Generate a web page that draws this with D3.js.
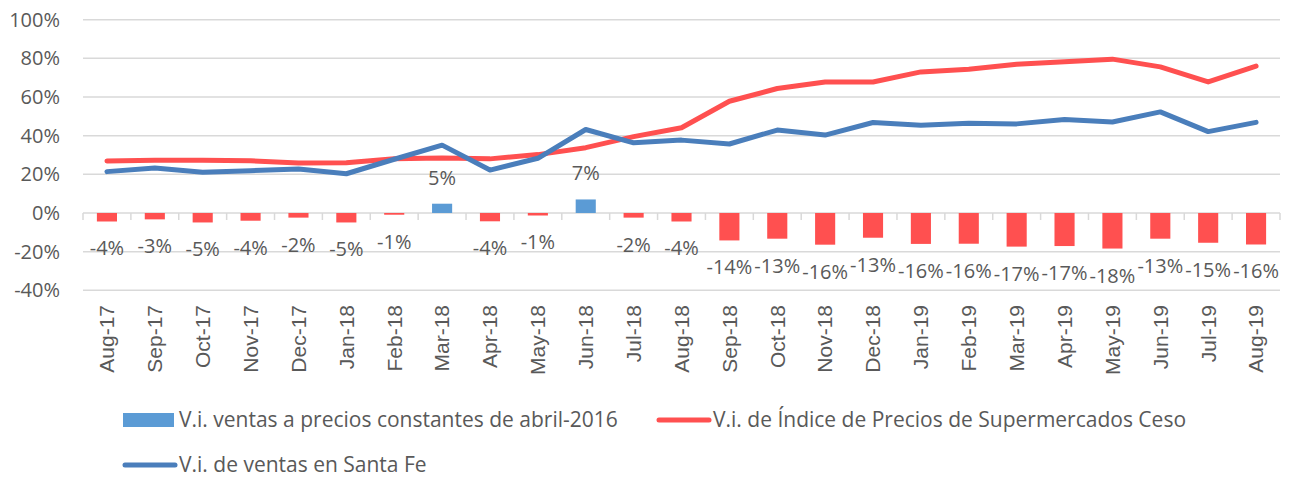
<!DOCTYPE html>
<html>
<head>
<meta charset="utf-8">
<script src="https://cdn.jsdelivr.net/npm/d3@7"></script>
<style>
  body { margin: 0; background: #fff; }
  text { fill: #595959; }
</style>
</head>
<body>
<div id="chart"></div>
<script>
// months on the x axis
const months = ["Aug-17", "Sep-17", "Oct-17", "Nov-17", "Dec-17", "Jan-18", "Feb-18", "Mar-18", "Apr-18",
  "May-18", "Jun-18", "Jul-18", "Aug-18", "Sep-18", "Oct-18", "Nov-18", "Dec-18", "Jan-19", "Feb-19",
  "Mar-19", "Apr-19", "May-19", "Jun-19", "Jul-19", "Aug-19"];

// V.i. ventas a precios constantes (bars), in %
const ventasConstantes = [-4.4, -3.3, -4.9, -4.0, -2.4, -4.9, -0.9, 4.8, -4.3, -1.3, 7.0, -2.4, -4.4,
  -14.2, -13.3, -16.4, -12.8, -16.0, -15.9, -17.4, -17.1, -18.4, -13.3, -15.4, -16.3];

// V.i. indice precios supermercados Ceso (red line)
const indiceCeso = [26.9, 27.3, 27.3, 27.0, 25.8, 26.0, 28.0, 28.4, 28.0, 30.2, 33.8, 39.5, 44.1,
  57.8, 64.4, 67.8, 67.8, 73.0, 74.4, 76.9, 78.3, 79.6, 75.6, 67.8, 76.0];

// V.i. ventas en Santa Fe (blue line)
const ventasSantaFe = [21.4, 23.3, 21.1, 21.9, 22.7, 20.3, 27.8, 35.1, 22.2, 28.3, 43.2, 36.3, 37.7,
  35.7, 42.9, 40.3, 46.8, 45.4, 46.4, 46.1, 48.4, 47.1, 52.3, 42.1, 46.9];

const yTicks = [-40, -20, 0, 20, 40, 60, 80, 100];

const legendItems = [
  { label: "V.i. ventas a precios constantes de abril-2016", type: "bar", color: "#5B9BD5" },
  { label: "V.i. de Índice de Precios de Supermercados Ceso", type: "line", color: "#FF5050" },
  { label: "V.i. de ventas en Santa Fe", type: "line", color: "#4A7EBB" }
];

const width = 1293, height = 478;
const calibri = "'Open Sans', Lato, sans-serif";

const svg = d3.select("#chart").append("svg")
  .attr("width", width)
  .attr("height", height);

const x = d3.scaleBand().domain(months).range([83, 1280]).padding(0);
const y = d3.scaleLinear().domain([-40, 100]).range([290.3, 19.7]);

// gridlines
svg.append("g").selectAll("line")
  .data(yTicks)
  .enter().append("line")
  .attr("x1", 83).attr("x2", 1280)
  .attr("y1", d => y(d)).attr("y2", d => y(d))
  .style("stroke", "#d9d9d9")
  .style("stroke-width", 1.5);

// y axis labels
svg.append("g").selectAll("text")
  .data(yTicks)
  .enter().append("text")
  .attr("x", 60)
  .attr("y", d => y(d))
  .attr("dy", "0.35em")
  .attr("text-anchor", "end")
  .style("font-family", calibri)
  .style("font-size", "20px")
  .text(d => d + "%");

// category ticks on the zero line
const bounds = months.map(m => x(m)).concat([x.range()[1]]);
svg.append("g").selectAll("line")
  .data(bounds)
  .enter().append("line")
  .attr("x1", d => d).attr("x2", d => d)
  .attr("y1", y(0)).attr("y2", y(0) + 7)
  .style("stroke", "#d9d9d9")
  .style("stroke-width", 1.5);

// bars
const barW = x.bandwidth() * 0.42;
svg.append("g").selectAll("rect")
  .data(ventasConstantes)
  .enter().append("rect")
  .attr("x", (d, i) => x(months[i]) + x.bandwidth() / 2 - barW / 2)
  .attr("y", d => y(Math.max(0, d)))
  .attr("width", barW)
  .attr("height", d => Math.abs(y(d) - y(0)))
  .style("fill", d => d >= 0 ? "#5B9BD5" : "#FF5050");

// bar labels
svg.append("g").selectAll("text")
  .data(ventasConstantes)
  .enter().append("text")
  .attr("x", (d, i) => x(months[i]) + x.bandwidth() / 2)
  .attr("y", d => d >= 0 ? y(d) - 26 : y(d) + 27)
  .attr("dy", "0.35em")
  .attr("text-anchor", "middle")
  .style("font-family", calibri)
  .style("font-size", "20px")
  .text(d => Math.round(d) + "%");

// lines
const line = d3.line()
  .x((d, i) => x(months[i]) + x.bandwidth() / 2)
  .y(d => y(d));

svg.append("path")
  .datum(indiceCeso)
  .attr("d", line)
  .style("fill", "none")
  .style("stroke", "#FF5050")
  .style("stroke-width", 5)
  .style("stroke-linejoin", "round")
  .style("stroke-linecap", "round");

svg.append("path")
  .datum(ventasSantaFe)
  .attr("d", line)
  .style("fill", "none")
  .style("stroke", "#4A7EBB")
  .style("stroke-width", 5)
  .style("stroke-linejoin", "round")
  .style("stroke-linecap", "round");

// x axis labels, rotated
svg.append("g").selectAll("text")
  .data(months)
  .enter().append("text")
  .attr("transform", d => "translate(" + (x(d) + x.bandwidth() / 2) + ",305) rotate(-90)")
  .attr("dy", "0.35em")
  .attr("text-anchor", "end")
  .style("font-family", "'Liberation Sans', Arial, sans-serif")
  .style("font-size", "21px")
  .text(d => d);

// legend
const legendPos = [[123, 420], [657, 420], [123, 465]];
const legend = svg.append("g").selectAll("g")
  .data(legendItems)
  .enter().append("g")
  .attr("transform", (d, i) => "translate(" + legendPos[i][0] + "," + legendPos[i][1] + ")");

legend.filter(d => d.type === "bar").append("rect")
  .attr("x", 0).attr("y", -7)
  .attr("width", 51).attr("height", 14)
  .style("fill", d => d.color);

legend.filter(d => d.type === "line").append("line")
  .attr("x1", 2).attr("x2", 52)
  .attr("y1", 0).attr("y2", 0)
  .style("stroke", d => d.color)
  .style("stroke-width", 5)
  .style("stroke-linecap", "round");

legend.append("text")
  .attr("x", 56)
  .attr("dy", "0.35em")
  .style("font-family", calibri)
  .style("font-size", "21px")
  .text(d => d.label);
</script>
</body>
</html>
